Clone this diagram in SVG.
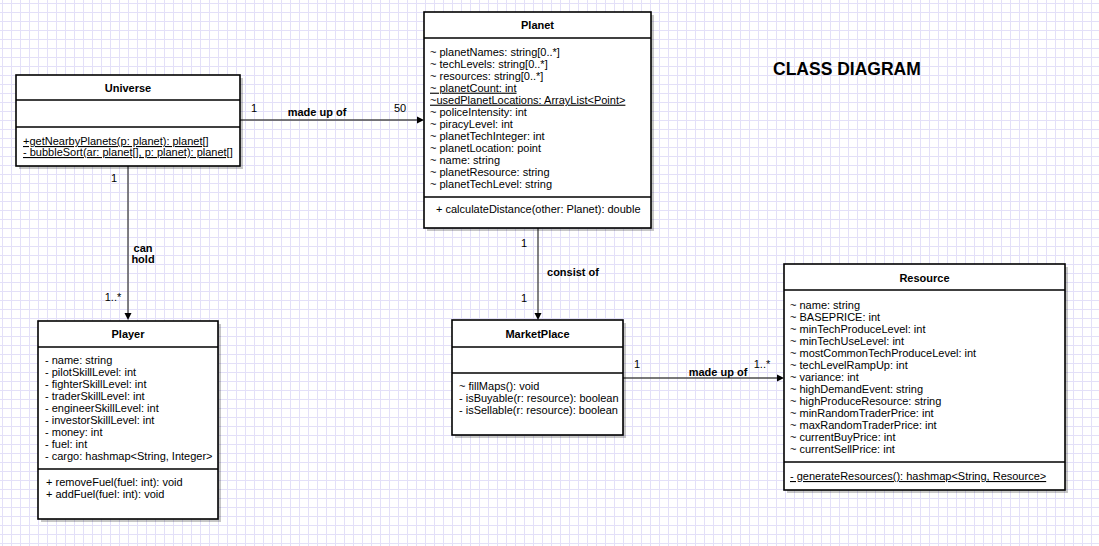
<svg xmlns="http://www.w3.org/2000/svg" width="1099" height="546" viewBox="0 0 1099 546">
<style>
text{font-family:"Liberation Sans",Arial,Helvetica,sans-serif;font-size:11px;fill:#000}
.b{font-weight:bold}
.c{text-anchor:middle}
.u{text-decoration:underline}
.box{fill:#fff;stroke:#000;stroke-width:1.6}
.sh{fill:#000;fill-opacity:0.22}
.div{stroke:#000;stroke-width:1.6}
.edge{stroke:#4d4d4d;stroke-width:1.4;fill:none}
.head{fill:#000}
.title{font-size:17.5px;font-weight:bold}
</style>
<defs>
<pattern id="grid" x="2" y="3" width="9" height="9" patternUnits="userSpaceOnUse">
<path d="M0 0.5H9M0.5 0V9" stroke="#e3e0f8" stroke-width="1" fill="none"/>
</pattern>
</defs>
<rect width="1099" height="546" fill="#fff"/>
<rect width="1099" height="546" fill="url(#grid)"/>

<g id="connectors">
<line class="edge" x1="240" y1="120" x2="418" y2="120"/>
<polygon class="head" points="424,120 417,116.5 417,123.5"/>
<text x="254" y="112" class="c">1</text>
<text x="317" y="115.5" class="c b">made up of</text>
<text x="400" y="112" class="c">50</text>

<line class="edge" x1="128" y1="166" x2="128" y2="314"/>
<polygon class="head" points="128,320 124.5,313 131.5,313"/>
<text x="114" y="182" class="c">1</text>
<text x="143" y="252" class="c b">can</text>
<text x="143" y="263" class="c b">hold</text>
<text x="113" y="301" class="c">1..*</text>

<line class="edge" x1="538" y1="228" x2="538" y2="314"/>
<polygon class="head" points="538,320 534.5,313 541.5,313"/>
<text x="524" y="247" class="c">1</text>
<text x="573" y="276" class="c b">consist of</text>
<text x="524" y="302" class="c">1</text>

<line class="edge" x1="623" y1="378" x2="778" y2="378"/>
<polygon class="head" points="784,378 777,374.5 777,381.5"/>
<text x="637" y="368" class="c">1</text>
<text x="718" y="376" class="c b">made up of</text>
<text x="762" y="368" class="c">1..*</text>
</g>

<g id="universe">
<rect class="sh" x="19" y="78" width="224" height="91"/>
<rect class="box" x="16" y="75" width="224" height="91"/>
<line class="div" x1="16" y1="100" x2="240" y2="100"/>
<line class="div" x1="16" y1="127" x2="240" y2="127"/>
<text x="128" y="92" class="c b">Universe</text>
<text x="23" y="145" class="u">+getNearbyPlanets(p: planet): planet[]</text>
<text x="23" y="156" class="u">- bubbleSort(ar: planet[], p: planet): planet[]</text>
</g>

<g id="planet">
<rect class="sh" x="427" y="15" width="227" height="216"/>
<rect class="box" x="424" y="12" width="227" height="216"/>
<line class="div" x1="424" y1="38" x2="651" y2="38"/>
<line class="div" x1="424" y1="197" x2="651" y2="197"/>
<text x="537.5" y="29" class="c b">Planet</text>
<text x="430" y="55.7">~ planetNames: string[0..*]</text>
<text x="430" y="67.7">~ techLevels: string[0..*]</text>
<text x="430" y="79.7">~ resources: string[0..*]</text>
<text x="430" y="91.7" class="u">~ planetCount: int</text>
<text x="430" y="103.7" class="u">~usedPlanetLocations: ArrayList&lt;Point&gt;</text>
<text x="430" y="115.7">~ policeIntensity: int</text>
<text x="430" y="127.7">~ piracyLevel: int</text>
<text x="430" y="139.7">~ planetTechInteger: int</text>
<text x="430" y="151.7">~ planetLocation: point</text>
<text x="430" y="163.7">~ name: string</text>
<text x="430" y="175.7">~ planetResource: string</text>
<text x="430" y="187.7">~ planetTechLevel: string</text>
<text x="436" y="213">+ calculateDistance(other: Planet): double</text>
</g>

<g id="player">
<rect class="sh" x="41" y="324" width="180" height="198"/>
<rect class="box" x="38" y="321" width="180" height="198"/>
<line class="div" x1="38" y1="347" x2="218" y2="347"/>
<line class="div" x1="38" y1="469" x2="218" y2="469"/>
<text x="128" y="338" class="c b">Player</text>
<text x="45" y="364">- name: string</text>
<text x="45" y="376">- pilotSkillLevel: int</text>
<text x="45" y="388">- fighterSkillLevel: int</text>
<text x="45" y="400">- traderSkillLevel: int</text>
<text x="45" y="412">- engineerSkillLevel: int</text>
<text x="45" y="424">- investorSkillLevel: int</text>
<text x="45" y="436">- money: int</text>
<text x="45" y="448">- fuel: int</text>
<text x="45" y="460">- cargo: hashmap&lt;String, Integer&gt;</text>
<text x="46" y="486">+ removeFuel(fuel: int): void</text>
<text x="46" y="498">+ addFuel(fuel: int): void</text>
</g>

<g id="marketplace">
<rect class="sh" x="455" y="323" width="171" height="115"/>
<rect class="box" x="452" y="320" width="171" height="115"/>
<line class="div" x1="452" y1="347" x2="623" y2="347"/>
<line class="div" x1="452" y1="373" x2="623" y2="373"/>
<text x="537.5" y="338" class="c b">MarketPlace</text>
<text x="459" y="390">~ fillMaps(): void</text>
<text x="459" y="402">- isBuyable(r: resource): boolean</text>
<text x="459" y="414">- isSellable(r: resource): boolean</text>
</g>

<g id="resource">
<rect class="sh" x="787" y="267" width="281" height="226"/>
<rect class="box" x="784" y="264" width="281" height="226"/>
<line class="div" x1="784" y1="290" x2="1065" y2="290"/>
<line class="div" x1="784" y1="462" x2="1065" y2="462"/>
<text x="924.5" y="282" class="c b">Resource</text>
<text x="790" y="309">~ name: string</text>
<text x="790" y="321">~ BASEPRICE: int</text>
<text x="790" y="333">~ minTechProduceLevel: int</text>
<text x="790" y="345">~ minTechUseLevel: int</text>
<text x="790" y="357">~ mostCommonTechProduceLevel: int</text>
<text x="790" y="369">~ techLevelRampUp: int</text>
<text x="790" y="381">~ variance: int</text>
<text x="790" y="393">~ highDemandEvent: string</text>
<text x="790" y="405">~ highProduceResource: string</text>
<text x="790" y="417">~ minRandomTraderPrice: int</text>
<text x="790" y="429">~ maxRandomTraderPrice: int</text>
<text x="790" y="441">~ currentBuyPrice: int</text>
<text x="790" y="453">~ currentSellPrice: int</text>
<text x="790" y="480" class="u">- generateResources(): hashmap&lt;String, Resource&gt;</text>
</g>

<text x="773" y="75" class="title">CLASS DIAGRAM</text>
</svg>
